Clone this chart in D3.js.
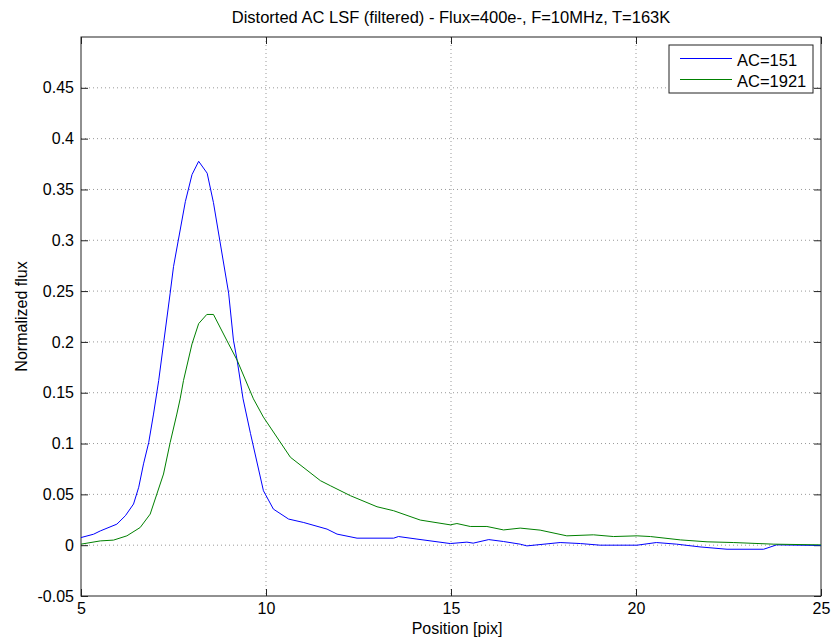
<!DOCTYPE html>
<meta charset="utf-8">
<script src="https://cdn.jsdelivr.net/npm/d3@7"></script>
<body style="margin:0;background:#fff">
<script>
// size of the page and the plot box
var W = 833, H = 639;
var margin = {top: 37, right: 12, bottom: 43, left: 81};

// data
var ac151X = [5.0, 5.34, 5.52, 5.97, 6.2, 6.42, 6.56, 6.69, 6.83, 6.96, 7.1, 7.41, 7.5, 7.82, 8.0, 8.18, 8.41, 8.58, 8.99, 9.12, 9.22, 9.38, 9.58, 9.93, 10.2, 10.61, 11.02, 11.65, 11.92, 12.46, 13.45, 13.58, 14.08, 14.98, 15.43, 15.6, 16.02, 16.42, 16.87, 17.05, 17.95, 18.5, 19.03, 20.03, 20.55, 21.1, 21.73, 22.46, 23.45, 23.8, 25];
var ac151Y = [0.0075, 0.0108, 0.014, 0.0207, 0.029, 0.0405, 0.057, 0.08, 0.101, 0.129, 0.162, 0.248, 0.274, 0.338, 0.3646, 0.3777, 0.366, 0.337, 0.248, 0.2017, 0.182, 0.144, 0.11, 0.0536, 0.0355, 0.0257, 0.0223, 0.0158, 0.0109, 0.0069, 0.0069, 0.0085, 0.006, 0.0016, 0.003, 0.002, 0.0055, 0.0036, 0.001, -0.0007, 0.0026, 0.0016, 0, 0, 0.0026, 0.001, -0.0017, -0.004, -0.004, 0.0003, -0.0003];
var ac1921X = [5.0, 5.52, 5.88, 6.24, 6.6, 6.87, 7.05, 7.23, 7.41, 7.59, 7.68, 7.77, 8.0, 8.18, 8.4, 8.58, 8.99, 9.22, 9.66, 9.93, 10.66, 11.47, 11.74, 12.28, 13.0, 13.45, 14.17, 14.98, 15.16, 15.52, 15.97, 16.42, 16.87, 17.41, 18.13, 18.85, 19.39, 20.03, 20.39, 21.2, 21.92, 22.64, 23.72, 25];
var ac1921Y = [0.001, 0.0042, 0.005, 0.0092, 0.0174, 0.0306, 0.0503, 0.07, 0.101, 0.129, 0.144, 0.162, 0.198, 0.218, 0.227, 0.227, 0.198, 0.182, 0.144, 0.126, 0.0865, 0.0635, 0.0585, 0.0487, 0.0378, 0.0339, 0.0247, 0.02, 0.0213, 0.0184, 0.0184, 0.015, 0.0168, 0.0148, 0.0092, 0.0102, 0.0085, 0.0092, 0.0085, 0.0052, 0.0033, 0.0026, 0.001, 0.0003];

var xTicks = [5, 10, 15, 20, 25];
var yTicks = [-0.05, 0, 0.05, 0.1, 0.15, 0.2, 0.25, 0.3, 0.35, 0.4, 0.45];

var series = [
	{name: "AC=151", color: "#0000ff", xs: ac151X, ys: ac151Y},
	{name: "AC=1921", color: "#008000", xs: ac1921X, ys: ac1921Y}
];

var FONT = "'Liberation Sans', Arial, sans-serif";
var iw = W - margin.left - margin.right, ih = H - margin.top - margin.bottom;

var svg = d3.select("body").append("svg")
	.attr("width", W)
	.attr("height", H)
	.style("font-family", FONT);

var g = svg.append("g").attr("transform", "translate(" + margin.left + "," + margin.top + ")");

var x = d3.scaleLinear().domain([5, 25]).range([0, iw]);
var y = d3.scaleLinear().domain([-0.05, 0.5]).range([ih, 0]);

//dotted grid
g.selectAll(".gx").data(xTicks.slice(1, -1)).enter().append("line")
	.attr("x1", function(d){return x(d)}).attr("x2", function(d){return x(d)})
	.attr("y1", 0).attr("y2", ih)
	.attr("stroke", "#999").attr("stroke-dasharray", "1,3");
g.selectAll(".gy").data(yTicks.slice(1)).enter().append("line")
	.attr("y1", function(d){return y(d)}).attr("y2", function(d){return y(d)})
	.attr("x1", 0).attr("x2", iw)
	.attr("stroke", "#999").attr("stroke-dasharray", "1,3");

//axes, ticks pointing inwards (plain hyphen for the minus, like matlab)
var fmt = function(d){return String(+d.toFixed(2))};
g.append("g").attr("transform", "translate(0," + ih + ")")
	.call(d3.axisBottom(x).tickValues(xTicks).tickFormat(fmt).tickSizeInner(-7).tickSizeOuter(0).tickPadding(7));
g.append("g")
	.call(d3.axisLeft(y).tickValues(yTicks).tickFormat(fmt).tickSizeInner(-7).tickSizeOuter(0).tickPadding(7));
g.append("g").call(d3.axisTop(x).tickValues(xTicks).tickSizeInner(-7).tickSizeOuter(0).tickFormat(""));
g.append("g").attr("transform", "translate(" + iw + ",0)")
	.call(d3.axisRight(y).tickValues(yTicks).tickSizeInner(-7).tickSizeOuter(0).tickFormat(""));
g.selectAll(".domain").remove();
g.selectAll(".tick line").attr("stroke", "#222");
g.selectAll(".tick text").attr("font-size", "16px").attr("fill", "#000").style("font-family", FONT);

//box
g.append("rect").attr("width", iw).attr("height", ih)
	.attr("fill", "none").attr("stroke", "#222");

//curves
var line = d3.line()
	.x(function(d){return x(d[0])})
	.y(function(d){return y(d[1])});
series.forEach(function(s){
	g.append("path")
		.datum(s.xs.map(function(v, i){return [v, s.ys[i]]}))
		.attr("d", line)
		.attr("fill", "none")
		.attr("stroke", s.color)
		.attr("stroke-width", 1);
});

//title and labels
svg.append("text").attr("x", margin.left + iw / 2).attr("y", 23)
	.attr("text-anchor", "middle").attr("font-size", "16.5px")
	.text("Distorted AC LSF (filtered) - Flux=400e-, F=10MHz, T=163K");
svg.append("text").attr("x", 457).attr("y", 634)
	.attr("text-anchor", "middle").attr("font-size", "16px")
	.text("Position [pix]");
svg.append("text").attr("transform", "translate(27," + (margin.top + ih / 2) + ") rotate(-90)")
	.attr("text-anchor", "middle").attr("font-size", "16px")
	.text("Normalized flux");

//legend
var lg = svg.append("g").attr("transform", "translate(669,45)");
lg.append("rect").attr("width", 144).attr("height", 48)
	.attr("fill", "#fff").attr("stroke", "#222");
series.forEach(function(s, i){
	lg.append("line").attr("x1", 11).attr("x2", 63)
		.attr("y1", 13.5 + i * 21).attr("y2", 13.5 + i * 21)
		.attr("stroke", s.color);
	lg.append("text").attr("x", 68).attr("y", 20.5 + i * 21)
		.attr("font-size", "16.5px").text(s.name);
});
</script>
</body>
